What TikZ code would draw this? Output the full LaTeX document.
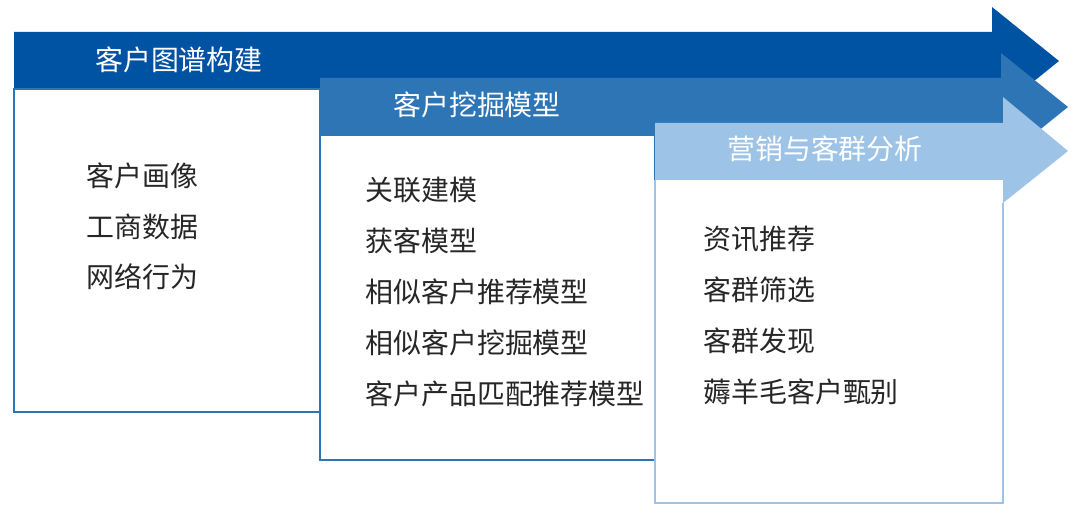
\documentclass[tikz,border=0pt]{standalone}
\usepackage{fontspec}
\setmainfont{Noto Sans CJK SC}
\usepackage{tikz}
\usetikzlibrary{calc}

\definecolor{darkblue}{HTML}{0052A3}
\definecolor{midblue}{HTML}{2E75B6}
\definecolor{lightblue}{HTML}{9DC3E6}
\definecolor{itemgray}{HTML}{262626}

\tikzset{
	title/.style={text=white,inner sep=0pt,font=\fontsize{15.9}{19}\selectfont},
	item/.style={text=itemgray,anchor=west,inner sep=0pt,font=\fontsize{15.9}{19}\selectfont},
}

\begin{document}
\begin{tikzpicture}[x=0.02cm,y=-0.02cm]
	\useasboundingbox (0,0) rectangle (1080,517);

	% first stage
	\fill [darkblue] (14,32) -- (992,32) -- (992,7) -- (1059,61) -- (992,115) -- (992,89) -- (14,89) -- cycle;
	\draw [midblue,line width=1pt,fill=white] (14,89) rectangle (320,412);
	\node [title](T1) at (179,60) {客户图谱构建};
	\node [item](A1) at (86,176) {客户画像};
	\node [item](A2) at (86,227) {工商数据};
	\node [item](A3) at (86,277) {网络行为};

	% second stage
	\fill [midblue] (320,78) -- (1001,78) -- (1001,53) -- (1068,107) -- (1001,161) -- (1001,135) -- (320,135) -- cycle;
	\draw [midblue,line width=1pt,fill=white] (320,135) rectangle (655,460);
	\node [title](T2) at (477,105) {客户挖掘模型};
	\node [item](B1) at (365,190) {关联建模};
	\node [item](B2) at (365,241) {获客模型};
	\node [item](B3) at (365,292) {相似客户推荐模型};
	\node [item](B4) at (365,343) {相似客户挖掘模型};
	\node [item](B5) at (365,394) {客户产品匹配推荐模型};

	% third stage
	\fill [lightblue] (655,123) -- (1003,123) -- (1003,97) -- (1068,151) -- (1003,203) -- (1003,180) -- (655,180) -- cycle;
	\draw [lightblue,line width=1pt] (1003,203) -- (1003,503) -- (655,503) -- (655,180);
	\node [title](T3) at (825,149) {营销与客群分析};
	\node [item](C1) at (703,239) {资讯推荐};
	\node [item](C2) at (703,290) {客群筛选};
	\node [item](C3) at (703,341) {客群发现};
	\node [item](C4) at (703,392) {薅羊毛客户甄别};
\end{tikzpicture}
\end{document}
